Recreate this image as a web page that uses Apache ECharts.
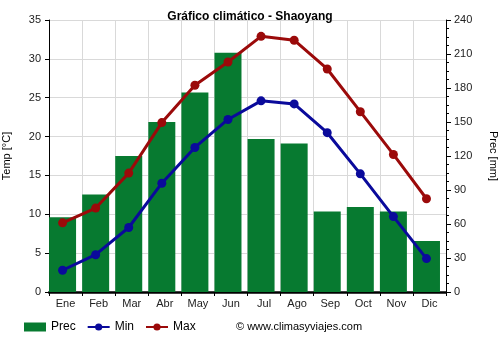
<!DOCTYPE html>
<html>
<head>
<meta charset="utf-8">
<script src="https://cdn.jsdelivr.net/npm/echarts@6/dist/echarts.min.js"></script>
<style>
  html, body { margin: 0; padding: 0; background: #fff; }
  #chart { width: 500px; height: 350px; }
</style>
</head>
<body>
<div id="chart"></div>
<script>
// Monthly climate data for Shaoyang
const months = ['Ene', 'Feb', 'Mar', 'Abr', 'May', 'Jun', 'Jul', 'Ago', 'Sep', 'Oct', 'Nov', 'Dic'];
const precMm = [66, 86, 120, 150, 176, 211, 135, 131, 71, 75, 71, 45];
const tempMin = [2.8, 4.8, 8.3, 14.0, 18.6, 22.2, 24.6, 24.2, 20.5, 15.2, 9.7, 4.3];
const tempMax = [8.9, 10.8, 15.3, 21.8, 26.6, 29.6, 32.9, 32.4, 28.7, 23.2, 17.7, 12.0];
const tempTicks = [0, 5, 10, 15, 20, 25, 30, 35];
const precTicks = [0, 30, 60, 90, 120, 150, 180, 210, 240];

const FONT = 'Liberation Sans, Arial, sans-serif';
const GREEN = '#077a30';
const BLUE = '#0a0a9b';
const RED = '#9b0a0a';

// Bars sit against the left edge of each month slot; the markers share the bar centre.
const SHIFT = -0.09;
const pts = arr => arr.map((v, i) => [i + SHIFT, v]);

const chart = echarts.init(document.getElementById('chart'), null, { renderer: 'canvas' });

chart.setOption({
  animation: false,
  backgroundColor: '#ffffff',
  title: {
    text: 'Gráfico climático - Shaoyang',
    left: 'center',
    top: 6,
    textStyle: { fontFamily: FONT, fontSize: 12, fontWeight: 'bold', color: '#000' }
  },
  grid: { left: 49, right: 54, top: 20, bottom: 58, containLabel: false, outerBoundsMode: 'none' },
  legend: {
    left: 19,
    top: 316,
    itemWidth: 22,
    itemHeight: 9,
    itemGap: 11,
    textStyle: { fontFamily: FONT, fontSize: 12, color: '#000' },
    data: [
      { name: 'Prec', icon: 'rect' },
      { name: 'Min' },
      { name: 'Max' }
    ]
  },
  graphic: [{
    type: 'text',
    left: 236,
    top: 321,
    style: { text: '© www.climasyviajes.com', font: '11px ' + FONT, fill: '#000' }
  }],
  xAxis: [
    {
      type: 'category',
      data: months,
      boundaryGap: true,
      axisLine: { onZero: false, lineStyle: { color: '#000', width: 2.5 } },
      axisTick: { show: true, length: 4, lineStyle: { color: '#000' } },
      axisLabel: { fontFamily: FONT, fontSize: 11, color: '#222', margin: 6 },
      splitLine: { show: true, lineStyle: { color: '#d9d9d9' } }
    },
    {
      type: 'value',
      min: -0.5,
      max: 11.5,
      show: false
    }
  ],
  yAxis: [
    {
      type: 'value',
      min: 0,
      max: 35,
      interval: 5,
      name: 'Temp [°C]',
      nameLocation: 'middle',
      nameGap: 37,
      nameRotate: 90,
      nameTextStyle: { fontFamily: FONT, fontSize: 11, color: '#000' },
      axisLine: { show: true, onZero: false, lineStyle: { color: '#000' } },
      axisTick: { show: true, length: 4, lineStyle: { color: '#000' } },
      axisLabel: {
        fontFamily: FONT, fontSize: 11, color: '#222', margin: 8,
        formatter: v => tempTicks.includes(v) ? String(v) : ''
      },
      splitLine: { show: true, lineStyle: { color: '#d9d9d9' } }
    },
    {
      type: 'value',
      min: 0,
      max: 240,
      interval: 30,
      name: 'Prec [mm]',
      nameLocation: 'middle',
      nameGap: 42,
      nameRotate: -90,
      nameTextStyle: { fontFamily: FONT, fontSize: 11, color: '#000' },
      axisLine: { show: true, onZero: false, lineStyle: { color: '#000' } },
      axisTick: { show: true, length: 5, lineStyle: { color: '#000' } },
      minorTick: { show: true, splitNumber: 4, length: 3, lineStyle: { color: '#000' } },
      axisLabel: {
        fontFamily: FONT, fontSize: 11, color: '#222', margin: 8,
        formatter: v => precTicks.includes(v) ? String(v) : ''
      },
      splitLine: { show: false }
    }
  ],
  series: [
    {
      name: 'Prec',
      type: 'bar',
      xAxisIndex: 1,
      yAxisIndex: 1,
      barWidth: 27,
      itemStyle: { color: GREEN },
      data: pts(precMm),
      z: 2
    },
    {
      name: 'Min',
      type: 'line',
      xAxisIndex: 1,
      yAxisIndex: 0,
      symbol: 'circle',
      symbolSize: 9,
      lineStyle: { color: BLUE, width: 3 },
      itemStyle: { color: BLUE },
      data: pts(tempMin),
      z: 3
    },
    {
      name: 'Max',
      type: 'line',
      xAxisIndex: 1,
      yAxisIndex: 0,
      symbol: 'circle',
      symbolSize: 9,
      lineStyle: { color: RED, width: 3 },
      itemStyle: { color: RED },
      data: pts(tempMax),
      z: 3
    }
  ]
});
</script>
</body>
</html>
